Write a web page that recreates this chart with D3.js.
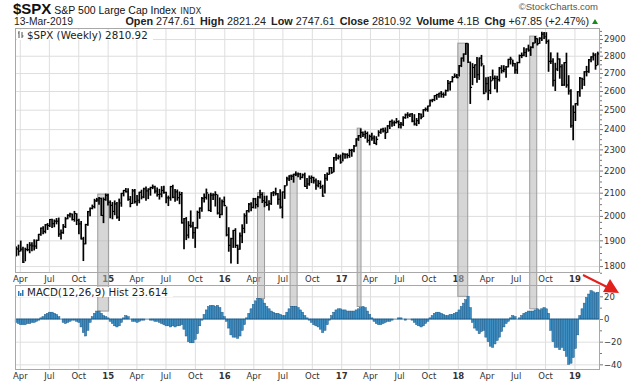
<!DOCTYPE html>
<html><head><meta charset="utf-8">
<script src="https://cdn.jsdelivr.net/npm/d3@7"></script>
<style>body{margin:0;background:#fff;} svg{display:block;}</style>
</head><body><svg id="c" width="640" height="385"></svg>
<script>
// ---------------- DATA ----------------
const firstWeek = "2014-03-21";   // weekly bars (Friday dates)
const closes = [
1866,1857,1865,1815,1864,1863,1881,1878,1877,1900,1924,1949,1936,1963,1960,1985,1968,1978,1978,1925,1931,1955,1988,2003,2008,1985,2010,1982,1967,1906,1886,1964,2018,2032,2039,2064,2068,2075,2002,2070,2088,
2058,2045,2019,2051,1995,2055,2097,2110,2104,2071,2053,2108,2061,2067,2102,2081,2117,2108,2116,2123,2126,2107,2092,2094,2110,2101,2077,2077,2127,2080,2104,2078,2092,1971,1989,1921,1961,1958,1931,1951,2015,2033,2075,2079,2099,2023,2089,2090,2092,2012,2006,2061,2044,
1922,1880,1907,1940,1880,1865,1918,1948,2000,2022,2050,2036,2073,2048,2081,2092,2065,2058,2047,2052,2099,2099,2096,2071,2037,2103,2130,2162,2175,2174,2183,2184,2184,2169,2180,2128,2139,2165,2168,2153,2133,2141,2126,2085,2164,2182,2213,2192,2260,2258,2264,2239,
2277,2275,2271,2295,2297,2316,2351,2367,2383,2373,2378,2344,2363,2355,2329,2349,2384,2399,2391,2382,2416,2439,2432,2433,2438,2423,2425,2459,2473,2472,2477,2441,2426,2443,2477,2461,2500,2502,2519,2549,2553,2575,2581,2588,2582,2579,2602,2642,2652,2675,2683,2674,
2743,2786,2810,2873,2762,2620,2732,2747,2691,2786,2752,2588,2641,2604,2656,2670,2670,2663,2728,2713,2721,2735,2779,2780,2755,2718,2760,2801,2802,2819,2840,2833,2850,2875,2902,2872,2905,2930,2914,2886,2767,2768,2659,2723,2781,2736,2633,2760,2633,2600,2417,2486,
2532,2596,2671,2665,2707,2708,2776,2793,2804,2743,2810.92];
const highs = [
1874,1881,1897,1873,1869,1884,1891,1890,1902,1901,1924,1950,1955,1964,1968,1985,1986,1983,1989,1991,1942,1964,1993,2005,2011,2008,2019,2009,1986,1977,1912,1965,2019,2034,2046,2071,2075,2079,2076,2077,2094,
2093,2064,2057,2064,2057,2072,2097,2110,2119,2117,2083,2114,2114,2088,2102,2111,2120,2125,2117,2124,2134,2129,2121,2115,2127,2129,2102,2085,2128,2133,2114,2112,2103,2101,1989,1993,1976,2021,1974,1952,2020,2034,2079,2094,2116,2093,2097,2095,2104,2090,2077,2068,2081,
2038,1951,1908,1940,1947,1881,1930,1963,2009,2022,2053,2056,2075,2075,2083,2111,2099,2084,2085,2065,2100,2105,2120,2096,2113,2103,2131,2169,2176,2178,2183,2194,2189,2187,2184,2188,2163,2175,2175,2169,2161,2154,2152,2133,2182,2189,2214,2214,2261,2278,2272,2273,
2282,2279,2279,2300,2300,2319,2352,2368,2401,2386,2390,2385,2370,2379,2365,2362,2392,2400,2404,2406,2418,2440,2446,2441,2454,2442,2433,2463,2477,2484,2478,2480,2474,2454,2480,2477,2500,2509,2519,2552,2555,2575,2582,2588,2597,2590,2605,2658,2652,2680,2695,2692,
2743,2787,2811,2873,2871,2763,2754,2747,2790,2787,2802,2742,2674,2676,2680,2717,2683,2682,2732,2742,2742,2737,2779,2791,2774,2754,2762,2804,2816,2848,2841,2863,2853,2877,2916,2902,2908,2941,2940,2939,2894,2817,2782,2756,2816,2782,2747,2760,2815,2685,2607,2520,
2532,2597,2675,2670,2708,2738,2778,2794,2816,2812,2821.24];
const lows = [
1839,1842,1858,1814,1820,1859,1851,1859,1862,1868,1900,1920,1926,1930,1944,1956,1952,1955,1967,1916,1905,1928,1952,1988,1995,1983,1978,1964,1926,1905,1821,1886,1961,2001,2030,2034,2062,2050,2002,1972,2067,
2046,1992,1988,2005,1990,1981,2041,2086,2103,2067,2039,2053,2055,2045,2056,2073,2078,2067,2074,2089,2118,2099,2085,2072,2082,2097,2056,2044,2067,2078,2063,2067,2052,1970,1867,1903,1910,1953,1908,1872,1949,1990,2020,2059,2072,2022,2019,2070,2042,2008,1993,2005,2043,
1918,1857,1812,1872,1872,1810,1865,1891,1931,1969,2016,2022,2034,2033,2039,2077,2057,2039,2044,2025,2049,2087,2090,2050,2033,1992,2075,2133,2155,2159,2147,2177,2172,2160,2167,2128,2119,2133,2145,2143,2115,2126,2119,2084,2099,2156,2183,2187,2195,2248,2254,2234,
2245,2258,2259,2262,2267,2288,2316,2344,2358,2363,2355,2335,2322,2345,2328,2323,2365,2379,2386,2353,2384,2403,2415,2418,2431,2407,2406,2418,2455,2458,2465,2437,2421,2418,2428,2453,2464,2494,2492,2520,2542,2548,2555,2566,2567,2566,2577,2600,2605,2650,2676,2673,
2683,2737,2768,2808,2761,2533,2635,2675,2648,2664,2741,2585,2594,2553,2586,2660,2613,2594,2655,2701,2707,2676,2735,2752,2740,2699,2698,2759,2789,2800,2795,2827,2802,2848,2877,2864,2874,2891,2903,2874,2710,2755,2628,2603,2714,2671,2631,2631,2621,2583,2409,2347,
2444,2524,2571,2612,2631,2684,2704,2765,2775,2722,2747.61];
const macdHist = [
-3,-4,-5,-5,-5,-4,-4,-3,-3,-2,-1,
1,2,4,5,6,6,5,4,2,0,
-3,-4,-3,-2,-1,-1,-2,-3,
-7,-12,-15,-10,-3,
2,5,7,7,5,3,
2,1,-2,-4,-6,-7,-6,
-3,1,3,2,
0,-2,-2,-3,-2,-1,-1,0,0,-1,
-1,-2,-2,-3,-4,-5,-6,-6,-7,
-6,-7,-6,-6,-5,-9,
-15,-20,-21,-21,-18,-13,-6,-1,
4,8,11,12,12,11,12,10,6,2,
-2,-8,-14,-16,-16,-17,-15,-10,-5,
1,5,9,13,16,18,18,17,14,11,
9,7,6,5,5,4,3,3,
6,9,11,11,11,10,8,6,
3,1,-1,-3,-5,-6,-7,-9,-12,-10,-5,-1,
3,6,8,9,9,8,8,7,7,7,7,8,9,10,11,10,7,4,1,
-2,-4,-5,-5,-4,-3,-2,-2,-1,
0,0,1,1,0,-1,0,0,-1,
-3,-5,-6,-7,-6,-4,-2,
1,3,5,6,6,5,4,3,3,
4,4,5,6,8,11,14,17,20,
10,-3,-8,-10,-13,-11,-10,-16,-20,-24,-25,-22,-19,-16,-11,-7,-4,-2,
1,3,2,0,1,3,5,6,7,7,7,8,9,8,9,10,9,5,
-10,-20,-25,-25,-27,-25,-28,-33,-40,-39,-34,-26,
-14,3,9,14,19,22,25,24,23,23.614];
const priceTicks = [1800,1900,2000,2100,2200,2300,2400,2500,2600,2700,2800,2900];
const macdTicks = [-40,-20,0,20];
// highlighted (annotation) bands: start, end, price top, MACD bottom
const bandStart = ["2014-12-01","2016-04-14","2016-07-25","2017-02-20","2018-01-01","2018-08-14"];
const bandEnd   = ["2015-01-04","2016-05-06","2016-08-16","2017-03-04","2018-02-01","2018-09-05"];
const bandTop   = [2094,2100,2180,2405,2875,2918];
const bandBottom= [7,18,11,11,20,9];
const headerVals = [["Open","2747.61"],["High","2821.24"],["Low","2747.61"],["Close","2810.92"],["Volume","4.1B"],["Chg","+67.85 (+2.47%)"]];

// ---------------- CHART ----------------
const svg = d3.select("#c");
const L = 15, R = 600, mT = 28, mB = 273, hT = 285, hB = 370;
const parse = d3.timeParse("%Y-%m-%d");
const start = parse(firstWeek);
const dates = closes.map((_, i) => d3.timeDay.offset(start, 7 * i));
const x = d3.scaleTime().domain([parse("2014-03-17"), parse("2019-03-22")]).range([L, R]);
const y = d3.scaleLog().domain([1774, 2968]).range([mB, mT]);
const ym = d3.scaleLinear().domain([-45, 30]).range([hB, hT]);
const qTicks = d3.timeMonth.every(3).range(parse("2014-04-01"), parse("2019-03-22"));
const gridC = "#dedede";
const font = "'DejaVu Sans', Verdana, sans-serif";
const hfont = "'Liberation Sans', Arial, sans-serif";

function styleGrid(g){ g.select(".domain").remove(); g.selectAll("line").attr("stroke", gridC).attr("stroke-width",1); }

// panel backgrounds + grids
[[mT,mB],[hT,hB]].forEach(([t,b]) => {
  svg.append("rect").attr("x",L).attr("y",t).attr("width",R-L).attr("height",b-t).attr("fill","#fff");
  svg.append("g").attr("transform",`translate(0,${b})`)
    .call(d3.axisBottom(x).tickValues(qTicks).tickSize(-(b-t)).tickFormat(""))
    .call(styleGrid);
});
svg.append("g").attr("transform",`translate(${L},0)`)
  .call(d3.axisRight(y).tickValues(priceTicks).tickSize(R-L).tickFormat("")).call(styleGrid);
svg.append("g").attr("transform",`translate(${L},0)`)
  .call(d3.axisRight(ym).tickValues(macdTicks).tickSize(R-L).tickFormat("")).call(styleGrid);

// x axis labels (below each panel)
const xFmt = d => d.getMonth() === 0 ? d3.timeFormat("%y")(d) : d3.timeFormat("%b")(d);
[mB, hB].forEach(b => {
  const ax = svg.append("g").attr("transform",`translate(0,${b})`)
    .call(d3.axisBottom(x).tickValues(qTicks).tickSize(0).tickPadding(2.5).tickFormat(xFmt));
  ax.select(".domain").remove();
  ax.selectAll("text").attr("font-family", font).attr("font-size", 8.5).attr("fill","#333")
    .attr("font-weight", d => d.getMonth() === 0 ? "bold" : "normal");
});

// right axes
function styleRight(g){ g.select(".domain").remove();
  g.selectAll("line").attr("stroke","#777");
  g.selectAll("text").attr("font-family", font).attr("font-size", 8.5).attr("fill","#333"); }
svg.append("g").attr("transform",`translate(${R},0)`)
  .call(d3.axisRight(y).tickValues(priceTicks).tickSize(3).tickPadding(1).tickFormat(d3.format("d"))).call(styleRight);
svg.append("g").attr("transform",`translate(${R},0)`)
  .call(d3.axisRight(y).tickValues(d3.range(1775, 2968, 25).filter(v => v % 100 !== 0)).tickSize(2).tickFormat("")).call(styleRight);
svg.append("g").attr("transform",`translate(${R},0)`)
  .call(d3.axisRight(ym).tickValues(macdTicks).tickSize(3).tickPadding(1).tickFormat(d3.format("d"))).call(styleRight);
svg.append("g").attr("transform",`translate(${R},0)`)
  .call(d3.axisRight(ym).tickValues([-30,-10,10]).tickSize(2).tickFormat("")).call(styleRight);

// annotation bands
const bands = bandStart.map((s,i)=>({s:parse(s), e:parse(bandEnd[i]), t:bandTop[i], b:bandBottom[i]}));
svg.append("g").selectAll("rect").data(bands).join("rect")
  .attr("x", d => x(d.s)).attr("width", d => x(d.e) - x(d.s))
  .attr("y", d => y(d.t)).attr("height", d => ym(d.b) - y(d.t))
  .attr("fill", "#b4b4b4").attr("fill-opacity", 0.55).attr("stroke", "#9c9c9c").attr("stroke-width", 1);

// MACD histogram
const bw = x(dates[1]) - x(dates[0]);
svg.append("g").selectAll("rect").data(macdHist).join("rect")
  .attr("x", (d,i) => x(dates[i]) - bw/2).attr("width", bw)
  .attr("y", d => ym(Math.max(0,d))).attr("height", d => Math.abs(ym(d) - ym(0)))
  .attr("fill", "#3f8ec2").attr("stroke", "#1c5c8c").attr("stroke-width", 0.5);
svg.append("line").attr("x1",L).attr("x2",R).attr("y1",ym(0)).attr("y2",ym(0)).attr("stroke","#1c5c8c").attr("stroke-width",0.6);

// price bars (HLC)
const gb = svg.append("g");
gb.selectAll("line.hl").data(dates).join("line").attr("class","hl")
  .attr("x1", d => x(d)).attr("x2", d => x(d))
  .attr("y1", (d,i) => y(highs[i]) - 0.5).attr("y2", (d,i) => y(lows[i]) + 0.5)
  .attr("stroke","#000").attr("stroke-width",1.7);
gb.selectAll("line.cl").data(dates).join("line").attr("class","cl")
  .attr("x1", d => x(d)).attr("x2", d => x(d) + 1.8)
  .attr("y1", (d,i) => y(closes[i])).attr("y2", (d,i) => y(closes[i]))
  .attr("stroke","#000").attr("stroke-width",1.2);

// panel borders
[[mT,mB],[hT,hB]].forEach(([t,b]) => {
  svg.append("rect").attr("x",L+0.5).attr("y",t+0.5).attr("width",R-L-1).attr("height",b-t-1)
    .attr("fill","none").attr("stroke","#a8a8a8");
});

// panel legends
const lg = svg.append("g");
lg.append("rect").attr("x",L+2).attr("y",mT+2).attr("width",136).attr("height",10).attr("fill","#fff");
lg.append("path").attr("d",`M${L+4},${mT+3}v7M${L+3},${mT+5}h1M${L+7},${mT+4}v6M${L+7},${mT+8}h1.5`).attr("stroke","#555").attr("fill","none");
lg.append("text").attr("x",L+12).attr("y",mT+10.5).attr("font-family",font).attr("font-size",10.3).attr("fill","#222")
  .text("$SPX (Weekly) " + d3.format(".2f")(closes[closes.length-1]));
lg.append("rect").attr("x",L+2).attr("y",hT+2).attr("width",156).attr("height",10).attr("fill","#fff");
[[3,5],[5,3],[7,6]].forEach(([dx,h]) => lg.append("rect").attr("x",L+dx).attr("y",hT+11-h).attr("width",1.5).attr("height",h).attr("fill","#2f7ab4"));
lg.append("text").attr("x",L+12).attr("y",hT+10.5).attr("font-family",font).attr("font-size",10.3).attr("fill","#222")
  .text("MACD(12,26,9) Hist " + d3.format(".3f")(macdHist[macdHist.length-1]));

// header
const t1 = svg.append("text").attr("x",13).attr("y",14).attr("font-family",hfont).attr("fill","#111");
t1.append("tspan").attr("font-weight","bold").attr("font-size",15).text("$SPX");
t1.append("tspan").attr("font-size",10.5).attr("dx",3).text("S&P 500 Large Cap Index");
t1.append("tspan").attr("font-size",8.5).attr("dx",4).attr("font-family",font).attr("fill","#333").text("INDX");
svg.append("text").attr("x",14).attr("y",25).attr("font-family",hfont).attr("font-size",10.3).attr("fill","#222").text("13-Mar-2019");
svg.append("text").attr("x",598).attr("y",10).attr("text-anchor","end").attr("font-family",hfont).attr("font-size",9.5).attr("fill","#555").text("\u00A9StockCharts.com");
const t2 = svg.append("text").attr("x",589).attr("y",25).attr("text-anchor","end").attr("font-family",hfont).attr("font-size",10.8).attr("fill","#222");
headerVals.forEach(([k,v],i) => {
  t2.append("tspan").attr("font-weight","bold").attr("dx", i ? 5 : 0).text(k);
  t2.append("tspan").attr("dx",3).text(v);
});
svg.append("path").attr("d","M592,24 L598,24 L595,19 Z").attr("fill","#1a8a1a");

// red arrow
svg.append("line").attr("x1",583).attr("y1",275).attr("x2",608).attr("y2",287.5).attr("stroke","#e3211c").attr("stroke-width",2);
svg.append("path").attr("d","M619,293 L603,292 L610,279 Z").attr("fill","#e3211c");
</script></body></html>
